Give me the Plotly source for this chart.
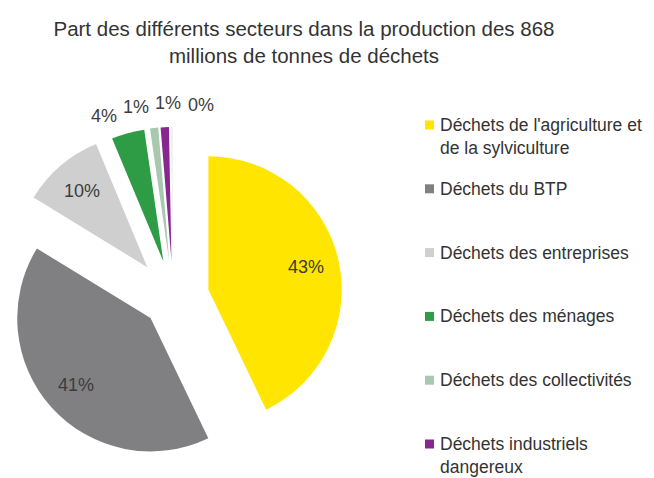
import math
import plotly.graph_objects as go

labels = [
    "Déchets de l'agriculture et de la sylviculture",
    "Déchets du BTP",
    "Déchets des entreprises",
    "Déchets des ménages",
    "Déchets des collectivités",
    "Déchets industriels dangereux",
    "Autres déchets",
]
legend_lines = [
    "Déchets de l'agriculture et<br>de la sylviculture",
    "Déchets du BTP",
    "Déchets des entreprises",
    "Déchets des ménages",
    "Déchets des collectivités",
    "Déchets industriels<br>dangereux",
]
values = [43, 41, 10, 4, 1, 1, 0.3]
colors = ["#FFE500", "#808082", "#CFCFCF", "#2E9B45", "#A9C8B0", "#86288E", "#F2F2F2"]
pulls = [0.27, 0.23, 0.30, 0.28, 0.28, 0.28, 0.28]
inside = [True, True, True, False, False, False, False]

FONT = "Liberation Sans, Arial, sans-serif"
W, H = 654, 478
dom_x = [0.0, 0.53]
dom_y = [0.01, 0.745]

fig = go.Figure(go.Pie(
    labels=labels,
    values=values,
    sort=False,
    direction="clockwise",
    rotation=0,
    pull=pulls,
    automargin=False,
    marker=dict(colors=colors, line=dict(width=0)),
    textinfo="none",
    showlegend=False,
    domain=dict(x=dom_x, y=dom_y),
    hoverinfo="label+percent",
))

# percentage labels placed from the pie geometry (same rules plotly uses)
bw = W * (dom_x[1] - dom_x[0])
bh = H * (dom_y[1] - dom_y[0])
cx = W * (dom_x[0] + dom_x[1]) / 2
cy = H * (1 - (dom_y[0] + dom_y[1]) / 2)
r = min(bw, bh) / (2 * (1 + max(pulls)))
total = sum(values)
bis = []
cum = 0.0
for v in values:
    bis.append(360.0 * (cum + v / 2) / total)
    cum += v
small = [i for i, ins in enumerate(inside) if not ins]
mean_small = sum(bis[i] for i in small) / len(small)
sep = 9.6
for i, v in enumerate(values):
    pct = f"{round(100 * v / total):.0f}%"
    if inside[i]:
        a = bis[i]
        d = pulls[i] * r + 0.75 * r
    else:
        k = small.index(i)
        a = mean_small + (k - (len(small) - 1) / 2) * sep
        d = (1 + pulls[i]) * r + 24
    px = cx + d * math.sin(math.radians(a))
    py = cy - d * math.cos(math.radians(a))
    fig.add_annotation(xref="paper", yref="paper", x=px / W, y=1 - py / H,
                       xanchor="center", yanchor="middle", text=pct, showarrow=False,
                       font=dict(family=FONT, size=18, color="#3c3c3c"))

# legend drawn to the spacing of the original
leg_y0 = 125
leg_step = 63.8
for i, txt in enumerate(legend_lines):
    yc = leg_y0 + i * leg_step
    fig.add_shape(type="rect", xref="paper", yref="paper",
                  x0=425 / W, x1=434 / W,
                  y0=1 - (yc + 4.5) / H, y1=1 - (yc - 4.5) / H,
                  fillcolor=colors[i], line=dict(width=0))
    fig.add_annotation(xref="paper", yref="paper", x=438 / W, y=1 - (yc - 12) / H,
                       xanchor="left", yanchor="top", align="left",
                       text=txt, showarrow=False,
                       font=dict(family=FONT, size=17.5, color="#333333"))

fig.update_layout(
    width=W, height=H,
    margin=dict(l=0, r=0, t=0, b=0, autoexpand=False),
    paper_bgcolor="white", plot_bgcolor="white",
    title=dict(text="Part des différents secteurs dans la production des 868<br>millions de tonnes de déchets",
               x=304 / W, xanchor="center", y=1 - 36 / H, yanchor="top",
               font=dict(family=FONT, size=20.5, color="#333333")),
)

fig.write_html("out.html", config={"displayModeBar": False},
               post_script="document.body.style.margin='0';")
